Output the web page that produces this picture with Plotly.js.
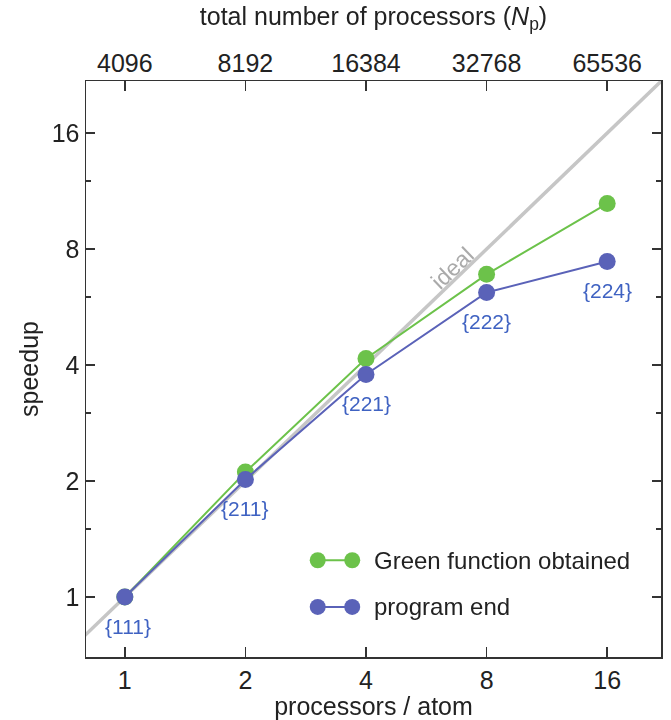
<!DOCTYPE html>
<html>
<head>
<meta charset="utf-8">
<script src="https://cdn.plot.ly/plotly-3.0.1.min.js"></script>
<style>html,body{margin:0;padding:0;background:#fff;}#chart{width:671px;height:720px;}</style>
</head>
<body>
<div id="chart"></div>
<script>
// ---- data ----
const procsPerAtom = [1, 2, 4, 8, 16];
const totalProcs = [4096, 8192, 16384, 32768, 65536];
const greenSpeedup = [1, 2.11, 4.16, 6.88, 10.5];
const endSpeedup = [1, 2.02, 3.78, 6.17, 7.43];
const configLabels = ['{111}', '{211}', '{221}', '{222}', '{224}'];
const idealX = [0.5, 32];
const seriesNames = ['Green function obtained', 'program end'];
const yTicks = [1, 2, 4, 8, 16];
const yMinorTicks = [1.5, 3, 6, 12];

const GREEN = '#6cc24a';
const BLUE = '#5a62b8';
const LABELBLUE = '#3f62c2';
const FONT = 'Liberation Sans, Arial, sans-serif';
const AX = '#333333';

const traces = [
  {x: idealX, y: idealX, mode: 'lines', line: {color: '#c6c6c6', width: 3.5},
   hoverinfo: 'skip', showlegend: false},
  {x: procsPerAtom, y: greenSpeedup, mode: 'lines+markers', name: seriesNames[0],
   line: {color: GREEN, width: 2}, marker: {color: GREEN, size: 17}, showlegend: false},
  {x: procsPerAtom, y: endSpeedup, mode: 'lines+markers', name: seriesNames[1],
   line: {color: BLUE, width: 2}, marker: {color: BLUE, size: 17}, showlegend: false},
  {x: totalProcs, y: endSpeedup, xaxis: 'x2', mode: 'markers', opacity: 0,
   hoverinfo: 'skip', showlegend: false, marker: {size: 1}}
];

const xr = [Math.log10(0.80), Math.log10(21.8)];
const annotations = configLabels.map((t, i) => ({
  x: Math.log10(procsPerAtom[i]), y: Math.log10(endSpeedup[i]), xref: 'x', yref: 'y',
  text: t, showarrow: false, yshift: -29, xshift: i === 0 ? 3 : 0,
  font: {family: FONT, size: 21, color: LABELBLUE}
}));
annotations.push({
  x: Math.log10(6.57), y: Math.log10(6.57), xref: 'x', yref: 'y', text: 'ideal',
  showarrow: false, textangle: -43.8, yshift: 14,
  font: {family: FONT, size: 23, color: '#aaaaaa'}
});
// custom legend
const legRows = [{y: 0.168, c: GREEN}, {y: 0.087, c: BLUE}];
const shapes = [];
legRows.forEach((r, i) => {
  shapes.push({type: 'line', xref: 'paper', yref: 'paper', x0: 0.403, x1: 0.463, y0: r.y, y1: r.y,
    line: {color: r.c, width: 2}});
  [0.403, 0.463].forEach(px => shapes.push({type: 'circle', xref: 'paper', yref: 'paper',
    xsizemode: 'pixel', ysizemode: 'pixel', xanchor: px, yanchor: r.y,
    x0: -8, x1: 8, y0: -8, y1: 8, fillcolor: r.c, line: {width: 0}}));
  annotations.push({xref: 'paper', yref: 'paper', x: 0.497, y: r.y, xanchor: 'left', yanchor: 'middle',
    text: seriesNames[i], showarrow: false, font: {family: FONT, size: 24, color: '#222'}});
});

const layout = {
  width: 671, height: 720,
  margin: {l: 86, r: 10, t: 81, b: 63},
  paper_bgcolor: '#fff', plot_bgcolor: '#fff',
  showlegend: false,
  font: {family: FONT, color: '#222'},
  xaxis: {
    type: 'log', range: xr, tickvals: procsPerAtom, ticktext: procsPerAtom.map(String),
    ticks: 'inside', ticklen: 10, tickwidth: 1.5, tickcolor: AX,
    showline: true, linecolor: AX, linewidth: 1.5, mirror: true,
    showgrid: false, zeroline: false,
    tickfont: {family: FONT, size: 25, color: '#222'},
    title: {text: 'processors / atom', font: {family: FONT, size: 25, color: '#222'}, standoff: 2}
  },
  xaxis2: {
    type: 'log', overlaying: 'x', side: 'top', anchor: 'y',
    range: [Math.log10(0.80 * 4096), Math.log10(21.8 * 4096)],
    tickvals: totalProcs, ticktext: totalProcs.map(String),
    ticks: 'inside', ticklen: 10, tickwidth: 1.5, tickcolor: AX,
    showline: false, showgrid: false, zeroline: false,
    tickfont: {family: FONT, size: 25, color: '#222'},
    ticklabelstandoff: 3,
    title: {text: 'total number of processors (<i>N</i><sub>p</sub>)', font: {family: FONT, size: 25, color: '#222'}, standoff: 16}
  },
  yaxis: {
    type: 'log', range: [Math.log10(0.699), Math.log10(21.84)],
    tickvals: yTicks, ticktext: yTicks.map(String),
    ticks: 'inside', ticklen: 9, tickwidth: 1.5, tickcolor: AX,
    minor: {tickvals: yMinorTicks, ticks: 'inside', ticklen: 5, tickwidth: 1.5, tickcolor: AX, showgrid: false},
    showline: true, linecolor: AX, linewidth: 1.5, mirror: 'ticks',
    showgrid: false, zeroline: false,
    tickfont: {family: FONT, size: 25, color: '#222'},
    title: {text: 'speedup', font: {family: FONT, size: 25, color: '#222'}, standoff: 6}
  },
  annotations: annotations,
  shapes: shapes
};

Plotly.newPlot('chart', traces, layout, {displayModeBar: false, staticPlot: true});
</script>
</body>
</html>
